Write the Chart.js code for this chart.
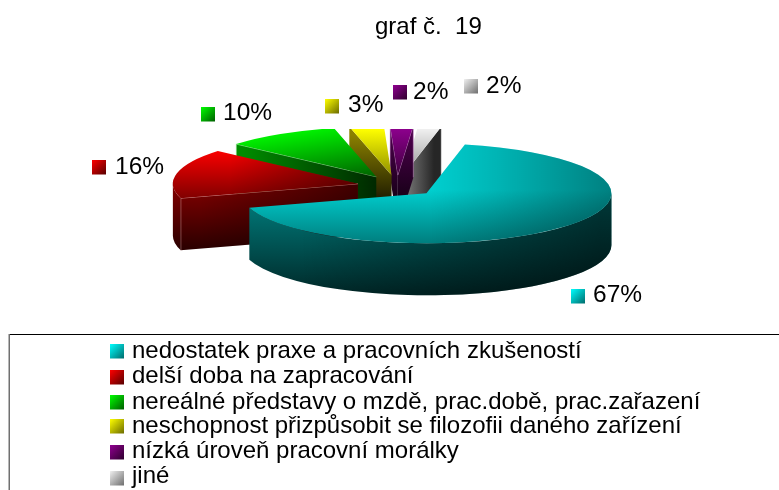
<!DOCTYPE html>
<html><head><meta charset="utf-8">
<style>html,body{margin:0;padding:0;background:#fff}canvas{display:block}</style>
<script src="https://cdn.jsdelivr.net/npm/chart.js@4"></script>
</head><body><canvas id="c" width="779" height="490"></canvas>
<script>
const titleText = "graf č.  19";
const categories = [
  "nedostatek praxe a pracovních zkušeností",
  "delší doba na zapracování",
  "nereálné představy o mzdě, prac.době, prac.zařazení",
  "neschopnost přizpůsobit se filozofii daného zařízení",
  "nízká úroveň pracovní morálky",
  "jiné"
];
const values = [67, 16, 10, 3, 2, 2];

// styling / layout, separate from the data
const FONT = '"Liberation Sans", Arial, sans-serif';
const K = 0.27, DEPTH = 52, EXPLODE = 40, CLIP_TOP = 129;
const paintOrder = [5, 4, 3, 2, 1, 0];
const swatch = [["#00ffff","#006e6e"],["#ff0000","#5a0000"],["#00ff00","#006000"],["#ffff00","#6e6e00"],["#900090","#30002f"],["#f0f0f0","#707070"]];
const labelAnchors = [[571,289,593,302],[92,160,115,174],[201,107,223,120],[325,99,348,112],[393,85,413,99],[464,79,486,93]];
const legendRows = [[344,358],[370,383],[395,409],[419,433],[445,458],[471,483]];
const topStyle = [
 {g:[0,190,0,242,[[0,"#00cfcf"],[1,"#008080"]]], o:[430,0,612,0,[[0,"rgba(0,0,0,0)"],[0.35,"rgba(0,0,0,.12)"],[1,"rgba(0,0,0,.38)"]]]},
 {g:[0,153,0,197,[[0,"#f40000"],[1,"#840000"]]], o:[230,0,357,0,[[0,"rgba(0,0,0,0)"],[1,"rgba(0,0,0,.45)"]]]},
 {g:[285,135,377,180,[[0,"#00ee00"],[1,"#005a00"]]]},
 {g:[0,129,0,177,[[0,"#ffff00"],[1,"#8c8c00"]]]},
 {g:[0,129,0,177,[[0,"#8c008c"],[1,"#3a003a"]]]},
 {g:[0,129,0,177,[[0,"#f0f0f0"],[1,"#909090"]]]}
];
const wallStyle = [
 {g:[0,200,0,292,[[0,"#007a7a"],[1,"#002a2a"]]], o:[300,0,600,0,[[0,"rgba(0,0,0,0)"],[1,"rgba(0,0,0,.55)"]]]},
 {g:[0,190,0,248,[[0,"#7c0000"],[1,"#2c0000"]]], o:[200,0,357,0,[[0,"rgba(0,0,0,0)"],[1,"rgba(0,0,0,.5)"]]]},
 {g:[243,0,377,0,[[0,"#008c00"],[1,"#002800"]]]},
 {g:[0,135,0,198,[[0,"#8a8000"],[1,"#221f00"]]]},
 {g:[0,135,0,198,[[0,"#4a004a"],[1,"#180018"]]]},
 {g:[403,0,434,0,[[0,"#808080"],[1,"#262626"]]]}
];
const edgeColor = ["rgba(0,0,0,0)","rgba(225,160,160,.7)","rgba(170,235,170,.6)","rgba(0,0,0,0)","rgba(210,150,210,.5)","rgba(255,255,255,.5)"];

function grad(ctx, spec, mapY){
  const y = mapY || (v => v);
  const g = ctx.createLinearGradient(spec[0], y(spec[1]), spec[2], y(spec[3]));
  spec[4].forEach(s => g.addColorStop(s[0], s[1]));
  return g;
}

const pie3d = {
  id: "pie3d",
  beforeDatasetsDraw(chart){
    const ctx = chart.ctx, arcs = chart.getDatasetMeta(0).data;
    ctx.save();
    ctx.beginPath(); ctx.rect(0, CLIP_TOP, chart.width, chart.height); ctx.clip();
    paintOrder.forEach(i => {
      const arc = arcs[i];
      const p = arc.getProps(["x","y","startAngle","endAngle","outerRadius"], true);
      const R = p.outerRadius;
      const mid = (p.startAngle + p.endAngle) / 2;
      const dx = EXPLODE * Math.cos(mid), dy = EXPLODE * Math.sin(mid);
      const ax = p.x + dx, ay = p.y + K * dy;
      const pt = a => [ax + R * Math.cos(a), ay + R * K * Math.sin(a)];
      const fillWall = build => {
        [wallStyle[i].g, wallStyle[i].o].forEach(spec => {
          if (!spec) return;
          ctx.beginPath(); build(); ctx.closePath();
          ctx.fillStyle = grad(ctx, spec); ctx.fill();
        });
      };
      const face = a => {
        const e = pt(a);
        fillWall(() => {
          ctx.moveTo(ax, ay); ctx.lineTo(e[0], e[1]);
          ctx.lineTo(e[0], e[1] + DEPTH); ctx.lineTo(ax, ay + DEPTH);
        });
        ctx.beginPath(); ctx.moveTo(ax, ay); ctx.lineTo(e[0], e[1]);
        ctx.lineTo(e[0], e[1] + DEPTH);
        ctx.strokeStyle = edgeColor[i]; ctx.lineWidth = 1; ctx.stroke();
      };
      if (-Math.sin(p.startAngle + Math.PI/2) > 0) face(p.startAngle);
      if (Math.sin(p.endAngle + Math.PI/2) > 0) face(p.endAngle);
      [[0, Math.PI], [2*Math.PI, 3*Math.PI]].forEach(r => {
        const a0 = Math.max(p.startAngle, r[0]), a1 = Math.min(p.endAngle, r[1]);
        if (a1 <= a0) return;
        fillWall(() => {
          ctx.ellipse(ax, ay, R, R * K, 0, a0, a1);
          ctx.ellipse(ax, ay + DEPTH, R, R * K, 0, a1, a0, true);
        });
      });
      // top surface: the library's own arc, squashed and pulled out
      const toE = v => p.y + (v - p.y) / K - dy;
      ctx.save();
      ctx.translate(0, p.y); ctx.scale(1, K); ctx.translate(0, -p.y);
      ctx.translate(dx, dy);
      [topStyle[i].g, topStyle[i].o].forEach(spec => {
        if (!spec) return;
        const s = [spec[0] - dx, spec[1], spec[2] - dx, spec[3], spec[4]];
        arc.options.backgroundColor = grad(ctx, s, toE);
        arc.draw(ctx);
      });
      ctx.restore();
    });
    ctx.restore();
    return false;
  },
  afterDraw(chart){
    const ctx = chart.ctx;
    const box = (x, y, c) => {
      const g = ctx.createLinearGradient(x, y, x + 14, y + 14);
      g.addColorStop(0, c[0]); g.addColorStop(1, c[1]);
      ctx.fillStyle = g; ctx.fillRect(x, y, 14, 14.5);
    };
    ctx.save();
    ctx.textAlign = "left"; ctx.textBaseline = "alphabetic";
    ctx.fillStyle = "#000"; ctx.font = "24px " + FONT;
    ctx.fillText(titleText, 375, 34);
    const total = values.reduce((a, b) => a + b, 0);
    values.forEach((v, i) => {
      const a = labelAnchors[i];
      box(a[0], a[1], swatch[i]);
      ctx.fillStyle = "#000"; ctx.font = "24.5px " + FONT;
      ctx.fillText(Math.round(v / total * 100) + "%", a[2], a[3]);
    });
    ctx.strokeStyle = "#000"; ctx.lineWidth = 1;
    ctx.beginPath(); ctx.moveTo(9, 334.5); ctx.lineTo(779, 334.5); ctx.stroke();
    ctx.strokeStyle = "#707070"; ctx.lineWidth = 1.5;
    ctx.beginPath(); ctx.moveTo(9.25, 334); ctx.lineTo(9.25, 490); ctx.stroke();
    categories.forEach((t, i) => {
      box(110, legendRows[i][0], swatch[i]);
      ctx.fillStyle = "#000"; ctx.font = "24px " + FONT;
      ctx.fillText(t, 132, legendRows[i][1]);
    });
    ctx.restore();
  }
};

new Chart(document.getElementById("c"), {
  type: "pie",
  data: { labels: categories, datasets: [{ data: values, borderWidth: 0, offset: 0, hoverOffset: 0, backgroundColor: swatch.map(s => s[0]) }] },
  options: {
    responsive: false, animation: false, rotation: 12, radius: 185,
    layout: { padding: { left: 15, right: 0, top: 0, bottom: 118 } },
    events: [],
    plugins: { legend: { display: false }, tooltip: { enabled: false }, title: { display: false } }
  },
  plugins: [pie3d]
});
</script></body></html>
